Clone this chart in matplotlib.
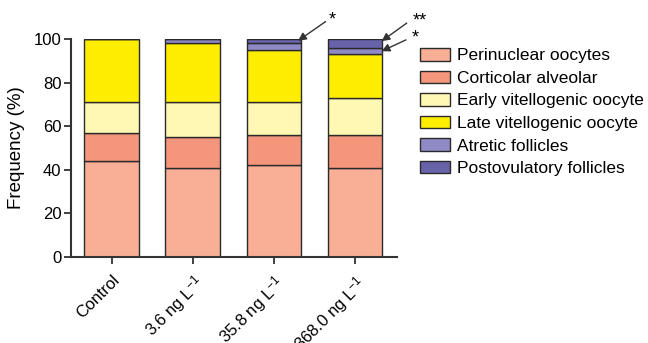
import matplotlib
matplotlib.use("Agg")
import matplotlib.pyplot as plt
import matplotlib.transforms as mtransforms
import numpy as np

plt.rcParams['font.family'] = ['Liberation Sans', 'DejaVu Sans']
plt.rcParams['mathtext.fontset'] = 'custom'
plt.rcParams['mathtext.rm'] = 'Liberation Sans'
plt.rcParams['mathtext.it'] = 'Liberation Sans:italic'
plt.rcParams['mathtext.bf'] = 'Liberation Sans:bold'

categories = ['Control', r'3.6 ng L$^{\mathregular{-1}}$', r'35.8 ng L$^{\mathregular{-1}}$', r'368.0 ng L$^{\mathregular{-1}}$']
series_names = ['Perinuclear oocytes', 'Corticolar alveolar', 'Early vitellogenic oocyte',
                'Late vitellogenic oocyte', 'Atretic follicles', 'Postovulatory follicles']
perinuclear = [44, 41, 42, 41]
corticolar = [13, 14, 14, 15]
early_vit = [14, 16, 15, 17]
late_vit = [29, 27, 24, 20]
atretic = [0, 2, 3, 3]
postovulatory = [0, 0, 2, 4]
colors = ['#F8AF95', '#F4967B', '#FFF8B4', '#FFED00', '#8F8AC6', '#6862A9']

series = [perinuclear, corticolar, early_vit, late_vit, atretic, postovulatory]

fig = plt.figure(figsize=(6.48, 3.43), dpi=100)
ax = fig.add_axes([71/648, 1-257/343, (397-71)/648, (257-39)/343])

x = np.arange(len(categories))
bottom = np.zeros(len(categories))
handles = []
for vals, name, col in zip(series, series_names, colors):
    vals = np.array(vals, dtype=float)
    b = ax.bar(x, vals, bottom=bottom, width=0.67, color=col, edgecolor='#2a2a2a',
               linewidth=1.0, label=name, zorder=2)
    handles.append(b)
    bottom += vals

ax.set_xlim(-0.5, 3.52)
ax.set_ylim(0, 100)
ax.set_yticks([0, 20, 40, 60, 80, 100])
ax.set_xticks(x)
ax.set_xticklabels(categories, rotation=45, ha='right', va='top', rotation_mode='anchor', fontsize=12)
offset = mtransforms.ScaledTranslation(-7/100, 2/100, fig.dpi_scale_trans)
for lbl in ax.get_xticklabels():
    lbl.set_transform(lbl.get_transform() + offset)
ax.tick_params(axis='y', labelsize=12, direction='out', length=5, width=1.3, color='#333333', pad=2)
ax.tick_params(axis='x', direction='out', length=5, width=1.3, color='#333333', pad=6)
for s in ['top', 'right']:
    ax.spines[s].set_visible(False)
for s in ['left', 'bottom']:
    ax.spines[s].set_linewidth(1.5)
    ax.spines[s].set_color('#333333')
ax.set_ylabel('Frequency (%)', fontsize=13.5, labelpad=6)

# significance arrows
arrow_kw = dict(arrowstyle='-|>', color='#333333', lw=1.0, mutation_scale=12, shrinkA=0, shrinkB=0)
ax.annotate('', xy=(2.30, 99.2), xytext=(2.64, 108), arrowprops=arrow_kw, annotation_clip=False)
ax.text(2.72, 108.5, '*', fontsize=13, ha='center', va='center', clip_on=False)
ax.annotate('', xy=(3.33, 99.0), xytext=(3.64, 107.3), arrowprops=arrow_kw, annotation_clip=False)
ax.text(3.80, 108.3, '**', fontsize=13, ha='center', va='center', clip_on=False)
ax.annotate('', xy=(3.33, 94.4), xytext=(3.63, 99.6), arrowprops=arrow_kw, annotation_clip=False)
ax.text(3.74, 100.5, '*', fontsize=13, ha='center', va='center', clip_on=False)

fig.legend(handles=handles, labels=series_names, loc='upper left', bbox_to_anchor=(420/648, 1-48/343),
           frameon=False, fontsize=12.5, handlelength=1.75, handleheight=0.75, labelspacing=0.41,
           handletextpad=0.4, borderaxespad=0, borderpad=0)

fig.savefig('out.png', dpi=100)
